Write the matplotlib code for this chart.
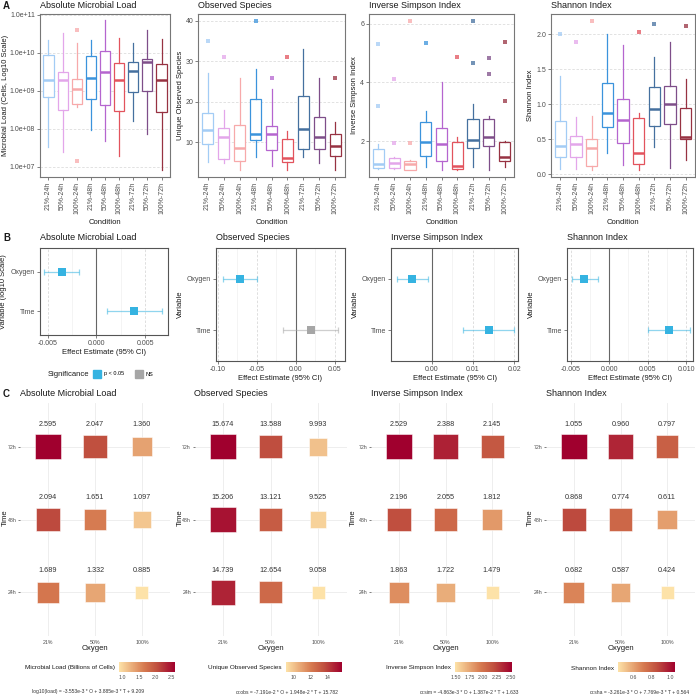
import numpy as np
import matplotlib
matplotlib.use('Agg')
import matplotlib.pyplot as plt
from matplotlib.colors import LinearSegmentedColormap
from matplotlib.lines import Line2D

plt.rcParams['font.family'] = ['Liberation Sans', 'DejaVu Sans']

W = H = 696

CONDITIONS = ['21%-24h', '50%-24h', '100%-24h', '21%-48h', '50%-48h',
              '100%-48h', '21%-72h', '50%-72h', '100%-72h']
COND_COLORS = ['#A3CCF5', '#E3A6EA', '#F7A9AA', '#3B93DC', '#B565CF',
               '#E2535D', '#45709F', '#7E4E89', '#973242']

# box stats: (whislo, q1, median, q3, whishi)
LOAD_BOX = [(3.4e7, 6.8e8, 1.95e9, 8.9e9, 2.2e10),
            (2.5e7, 3.2e8, 1.95e9, 3.2e9, 3.3e10),
            (3.7e8, 4.6e8, 1.1e9, 2.1e9, 1.8e10),
            (9.3e7, 6.0e8, 2.2e9, 8.5e9, 2.2e10),
            (4.7e7, 4.3e8, 3.1e9, 1.15e10, 7.4e10),
            (1.9e7, 3.0e8, 1.95e9, 5.4e9, 2.4e10),
            (1.6e8, 9.3e8, 3.4e9, 5.6e9, 1.8e10),
            (7.4e7, 1.0e9, 5.6e9, 6.8e9, 4.0e10),
            (8.3e6, 2.75e8, 1.95e9, 5.0e9, 2.3e10)]
LOAD_OUT = [[], [], [4.0e10, 1.4e7], [], [], [], [], [], []]

OBS_BOX = [(5.1, 9.5, 13.0, 17.2, 27.2),
           (5.0, 6.0, 11.2, 13.6, 18.1),
           (3.2, 5.3, 8.7, 14.3, 26.0),
           (6.3, 10.6, 12.0, 20.6, 28.0),
           (4.2, 8.1, 12.0, 14.1, 23.1),
           (3.2, 5.1, 6.2, 10.9, 12.9),
           (6.3, 8.4, 13.2, 21.4, 33.0),
           (5.0, 8.4, 11.2, 16.2, 26.0),
           (3.2, 6.6, 9.2, 12.0, 15.0)]
OBS_OUT = [[35], [31], [], [40], [26], [31], [], [], [26]]

SIM_BOX = [(1.03, 1.07, 1.21, 1.72, 1.90),
           (1.03, 1.07, 1.24, 1.41, 1.45),
           (1.00, 1.01, 1.21, 1.33, 1.35),
           (1.12, 1.50, 1.96, 2.66, 3.03),
           (1.00, 1.32, 1.89, 2.43, 4.00),
           (1.00, 1.03, 1.16, 1.96, 2.13),
           (1.12, 1.75, 2.03, 2.75, 3.25),
           (1.00, 1.84, 2.15, 2.75, 2.85),
           (1.10, 1.33, 1.44, 1.98, 2.00)]
SIM_OUT = [[5.32, 3.2], [4.12, 1.92], [6.11, 1.92], [5.34], [], [4.86],
           [6.11, 4.68], [4.85, 4.29], [5.37, 3.37]]

SHA_BOX = [(0.08, 0.24, 0.41, 0.76, 1.40),
           (0.08, 0.24, 0.43, 0.55, 0.82),
           (0.06, 0.12, 0.38, 0.51, 0.83),
           (0.31, 0.68, 0.88, 1.30, 2.00),
           (0.13, 0.44, 0.78, 1.07, 1.85),
           (0.06, 0.14, 0.31, 0.80, 0.87),
           (0.39, 0.69, 0.93, 1.24, 1.68),
           (0.09, 0.72, 1.00, 1.26, 1.89),
           (0.21, 0.50, 0.53, 0.94, 1.36)]
SHA_OUT = [[2.0], [1.89], [2.19], [], [], [2.03], [2.14], [], [2.12]]

# forest data: rows Oxygen, Time
VARIABLES = ['Oxygen', 'Time']
LOAD_EST, LOAD_LO, LOAD_HI = [-3.553e-3, 3.885e-3], [-5.36e-3, 1.06e-3], [-1.82e-3, 6.77e-3]
OBS_EST, OBS_LO, OBS_HI = [-7.191e-2, 1.948e-2], [-0.094, -0.0169], [-0.0499, 0.055]
SIM_EST, SIM_LO, SIM_HI = [-4.863e-3, 1.387e-2], [-0.0085, 0.0077], [-0.0010, 0.0199]
SHA_EST, SHA_LO, SHA_HI = [-3.261e-3, 7.769e-3], [-0.0048, 0.0050], [-0.0015, 0.0105]
LOAD_SIG = [True, True]
OBS_SIG = [True, False]
SIM_SIG = [True, True]
SHA_SIG = [True, True]

# predicted grids: rows 24h, 48h, 72h ; cols 21%, 50%, 100%
OXYGEN = ['21%', '50%', '100%']
TIMES = ['24h', '48h', '72h']
LOAD_GRID = [[1.689, 1.332, 0.885], [2.094, 1.651, 1.097], [2.595, 2.047, 1.360]]
OBS_GRID = [[14.739, 12.654, 9.058], [15.206, 13.121, 9.525], [15.674, 13.588, 9.993]]
SIM_GRID = [[1.863, 1.722, 1.479], [2.196, 2.055, 1.812], [2.529, 2.388, 2.145]]
SHA_GRID = [[0.682, 0.587, 0.424], [0.868, 0.774, 0.611], [1.055, 0.960, 0.797]]

fig = plt.figure(figsize=(6.96, 6.96), dpi=100)

TXT = '#1A1A1A'
TICK = '#4D4D4D'


def fbox(l, t, r, b):
    return [l / W, 1 - b / H, (r - l) / W, (b - t) / H]


def ftext(x, y, s, **kw):
    kw.setdefault('color', TXT)
    fig.text(x / W, 1 - y / H, s, **kw)


# ---------------- Row A : boxplots ----------------
A_PANELS = [
    ('Absolute Microbial Load', 'Microbial Load (Cells, Log10 Scale)', LOAD_BOX, LOAD_OUT, (40, 14, 170, 177), 6),
    ('Observed Species', 'Unique Observed Species', OBS_BOX, OBS_OUT, (198, 14, 345, 177), 181),
    ('Inverse Simpson Index', 'Inverse Simpson Index', SIM_BOX, SIM_OUT, (369, 14, 514, 177), 355),
    ('Shannon Index', 'Shannon Index', SHA_BOX, SHA_OUT, (551, 14, 695, 177), 531),
]

for i, (title, ylab, boxdata, outs, pos, ylx) in enumerate(A_PANELS):
    ax = fig.add_axes(fbox(*pos))
    stats = [dict(whislo=b[0], q1=b[1], med=b[2], q3=b[3], whishi=b[4], fliers=o)
             for b, o in zip(boxdata, outs)]
    art = ax.bxp(stats, positions=range(1, 10), widths=0.72, showcaps=False,
                 patch_artist=True, flierprops=dict(marker='s', markersize=2.2,
                                                    markeredgewidth=0, alpha=0.75))
    for k, col in enumerate(COND_COLORS):
        art['boxes'][k].set(facecolor='white', edgecolor=col, linewidth=0.9)
        art['medians'][k].set(color=col, linewidth=1.8)
        for w in art['whiskers'][2 * k:2 * k + 2]:
            w.set(color=col, linewidth=0.9)
        art['fliers'][k].set(markerfacecolor=col)
    ax.set_xlim(0.4, 9.6)
    if i == 0:
        ax.set_yscale('log')
        ax.set_ylim(5.4e6, 1.06e11)
        ticks = [1e7, 1e8, 1e9, 1e10, 1e11]
        ax.set_yticks(ticks)
        ax.set_yticklabels(['1.0e+07', '1.0e+08', '1.0e+09', '1.0e+10', '1.0e+11'])
        ax.yaxis.set_minor_locator(matplotlib.ticker.NullLocator())
    elif i == 1:
        ax.set_ylim(1.43, 41.7)
        ax.set_yticks([10, 20, 30, 40])
    elif i == 2:
        ax.set_ylim(0.77, 6.34)
        ax.set_yticks([2, 4, 6])
    else:
        ax.set_ylim(-0.04, 2.29)
        ax.set_yticks([0, 0.5, 1.0, 1.5, 2.0])
        ax.set_yticklabels(['0.0', '0.5', '1.0', '1.5', '2.0'])
    ax.set_xticks(range(1, 10))
    ax.set_xticklabels(CONDITIONS, rotation=90)
    ax.tick_params(labelsize=5, colors=TICK, length=2, width=0.5, pad=1.5)
    ax.yaxis.grid(True, color='#DDDDDD', linestyle=(0, (3, 2)), linewidth=0.6)
    ax.set_axisbelow(True)
    for s in ax.spines.values():
        s.set_color('#777777')
        s.set_linewidth(0.8)
    ftext(pos[0], 5, title, fontsize=6.5, va='center', ha='left')
    ftext(ylx, (pos[1] + pos[3]) / 2, ylab, fontsize=5.5, rotation=90, va='center', ha='center')
    ftext((pos[0] + pos[2]) / 2, 222, 'Condition', fontsize=5.5, va='center', ha='center')

ftext(3, 6, 'A', fontsize=7, fontweight='bold', va='center')

# ---------------- Row B : effect estimates ----------------
BLUE = '#35B3E1'
GREY = '#A6A6A6'
B_PANELS = [
    ('Absolute Microbial Load', 'Variable (log10 Scale)', LOAD_EST, LOAD_LO, LOAD_HI, LOAD_SIG,
     (40, 248, 168, 335), 4, 352, (-0.00582, 0.00737), [-0.005, 0, 0.005], ['-0.005', '0.000', '0.005']),
    ('Observed Species', 'Variable', OBS_EST, OBS_LO, OBS_HI, OBS_SIG,
     (216, 248, 345, 361), 180, 378, (-0.1025, 0.0635), [-0.10, -0.05, 0, 0.05], ['-0.10', '-0.05', '0.00', '0.05']),
    ('Inverse Simpson Index', 'Variable', SIM_EST, SIM_LO, SIM_HI, SIM_SIG,
     (391, 248, 518, 361), 355, 378, (-0.00985, 0.0209), [0, 0.01, 0.02], ['0.00', '0.01', '0.02']),
    ('Shannon Index', 'Variable', SHA_EST, SHA_LO, SHA_HI, SHA_SIG,
     (567, 248, 693, 361), 531, 378, (-0.0055, 0.0109), [-0.005, 0, 0.005, 0.01], ['-0.005', '0.000', '0.005', '0.010']),
]

for title, ylab, est, lo, hi, sig, pos, ylx, xly, xlim, xt, xtl in B_PANELS:
    ax = fig.add_axes(fbox(*pos))
    ypos = [2, 1]
    for e, a, b, s, y in zip(est, lo, hi, sig, ypos):
        col = BLUE if s else GREY
        ax.errorbar([e], [y], xerr=[[e - a], [b - e]], fmt='none', ecolor=col,
                    alpha=0.55, elinewidth=0.9, capsize=2.5, capthick=0.9, zorder=2)
        ax.plot([e], [y], 's', color=col, markersize=5.5, markeredgewidth=0, zorder=3)
    ax.axvline(0, color='#666666', linewidth=0.8, linestyle='-', zorder=1)
    ax.set_xlim(*xlim)
    ax.set_ylim(0.4, 2.6)
    ax.set_xticks(xt)
    ax.set_xticklabels(xtl)
    ax.set_xticks([(xt[j] + xt[j + 1]) / 2 for j in range(len(xt) - 1)], minor=True)
    ax.set_yticks(ypos)
    ax.set_yticklabels(VARIABLES)
    ax.tick_params(labelsize=5, colors=TICK, length=2, width=0.5, pad=1.5)
    ax.tick_params(which='minor', length=0)
    ax.xaxis.grid(True, which='major', color='#D9D9D9', linestyle=(0, (3, 2)), linewidth=0.6, zorder=0)
    ax.xaxis.grid(True, which='minor', color='#F0F0F0', linewidth=0.5, zorder=0)
    ax.set_axisbelow(True)
    for s in ax.spines.values():
        s.set_color('#555555')
        s.set_linewidth(0.8)
    ftext(pos[0], 238, title, fontsize=6.5, va='center', ha='left')
    ftext(ylx, (pos[1] + pos[3]) / 2, ylab, fontsize=5.5, rotation=90, va='center', ha='center')
    ftext((pos[0] + pos[2]) / 2, xly, 'Effect Estimate (95% CI)', fontsize=5.5, va='center', ha='center')

ftext(3, 238, 'B', fontsize=7, fontweight='bold', va='center')
ftext(48, 374, 'Significance', fontsize=5.5, va='center', ha='left')
handles = [Line2D([], [], marker='s', linestyle='none', color=BLUE, markersize=6),
           Line2D([], [], marker='s', linestyle='none', color=GREY, markersize=6)]
fig.legend(handles, ['p < 0.05', 'NS'], loc='center left', bbox_to_anchor=(94 / W, 1 - 374 / H),
           ncol=2, frameon=False, fontsize=4, handlelength=1.2, handletextpad=0.6,
           columnspacing=2.0, borderaxespad=0, borderpad=0)

# ---------------- Row C : predicted grids ----------------
cmap = LinearSegmentedColormap.from_list(
    'loadmap', [(0, '#FDE2A8'), (0.26, '#E7A674'), (0.45, '#D67A50'), (0.68, '#C0503F'), (1, '#A0002E')])

C_PANELS = [
    ('Absolute Microbial Load', LOAD_GRID, (20, 403, 170, 636), 5, 'Microbial Load (Billions of Cells)',
     (119, 662, 175, 672), [1.0, 1.5, 2.0, 2.5], ['1.0', '1.5', '2.0', '2.5'],
     'log10(load) = -3.553e-3 * O + 3.885e-3 * T + 9.209', 88),
    ('Observed Species', OBS_GRID, (194.5, 403, 346.5, 636), 180, 'Unique Observed Species',
     (286, 662, 342, 672), [10, 12, 14], ['10', '12', '14'],
     'α:obs = -7.191e-2 * O + 1.948e-2 * T + 15.782', 287),
    ('Inverse Simpson Index', SIM_GRID, (371, 403, 520, 636), 353, 'Inverse Simpson Index',
     (455, 662, 512, 672), [1.5, 1.75, 2.0, 2.25, 2.5], ['1.50', '1.75', '2.00', '2.25', '2.50'],
     'α:sim = -4.863e-3 * O + 1.387e-2 * T + 1.633', 469),
    ('Shannon Index', SHA_GRID, (546, 403, 695, 636), 530, 'Shannon Index',
     (618, 662, 675, 672), [0.6, 0.8, 1.0], ['0.6', '0.8', '1.0'],
     'α:sha = -3.261e-3 * O + 7.769e-3 * T + 0.564', 640),
]

SIDE_MIN, SIDE_MAX = 13.0, 25.5  # px

for title, grid, pos, tlx, cblab, cbpos, cbt, cbtl, formula, fx in C_PANELS:
    ax = fig.add_axes(fbox(*pos))
    g = np.array(grid)
    xs, ys = np.meshgrid(np.arange(1, 4), np.arange(1, 4))
    vmin, vmax = g.min(), g.max()
    side = SIDE_MIN + np.sqrt((g - vmin) / (vmax - vmin)) * (SIDE_MAX - SIDE_MIN)
    sc = ax.scatter(xs.ravel(), ys.ravel(), s=(side.ravel() * 0.72) ** 2, c=g.ravel(),
                    cmap=cmap, vmin=vmin, vmax=vmax, marker='s',
                    edgecolors=(1, 1, 1, 0.6), linewidths=0.6, zorder=3)
    for x, y, v in zip(xs.ravel(), ys.ravel(), g.ravel()):
        ax.text(x, y + 0.3, f'{v:.3f}', ha='center', va='center', fontsize=5.2, color='#333333')
    ax.set_xlim(0.4, 3.6)
    ax.set_ylim(0.4, 3.6)
    ax.set_xticks([1, 2, 3])
    ax.set_xticklabels(OXYGEN)
    ax.set_yticks([1, 2, 3])
    ax.set_yticklabels(TIMES)
    ax.tick_params(axis='x', length=0, pad=3, labelsize=3.8, colors=TICK)
    ax.tick_params(axis='y', length=1.5, width=0.5, pad=1, labelsize=3.8, colors=TICK)
    ax.grid(True, color='#EBEBEB', linewidth=0.6)
    ax.set_axisbelow(True)
    for s in ax.spines.values():
        s.set_visible(False)
    ftext(pos[0], 394, title, fontsize=6.5, va='center', ha='left')
    ftext(tlx, 518, 'Time', fontsize=5.5, rotation=90, va='center', ha='center')
    ftext((pos[0] + pos[2]) / 2, 648, 'Oxygen', fontsize=5.5, va='center', ha='center')

    cax = fig.add_axes(fbox(*cbpos))
    cb = fig.colorbar(sc, cax=cax, orientation='horizontal')
    cb.set_ticks(cbt)
    cb.set_ticklabels(cbtl)
    cb.outline.set_visible(False)
    cax.tick_params(labelsize=3.8, colors=TICK, length=0, pad=2)
    ftext(cbpos[0] - 4, 668, cblab, fontsize=4.6, va='center', ha='right')
    ftext(fx, 692, formula, fontsize=3.6, va='center', ha='center', color='#333333')

ftext(3, 394, 'C', fontsize=7, fontweight='bold', va='center')

fig.savefig('out.png', dpi=100)
